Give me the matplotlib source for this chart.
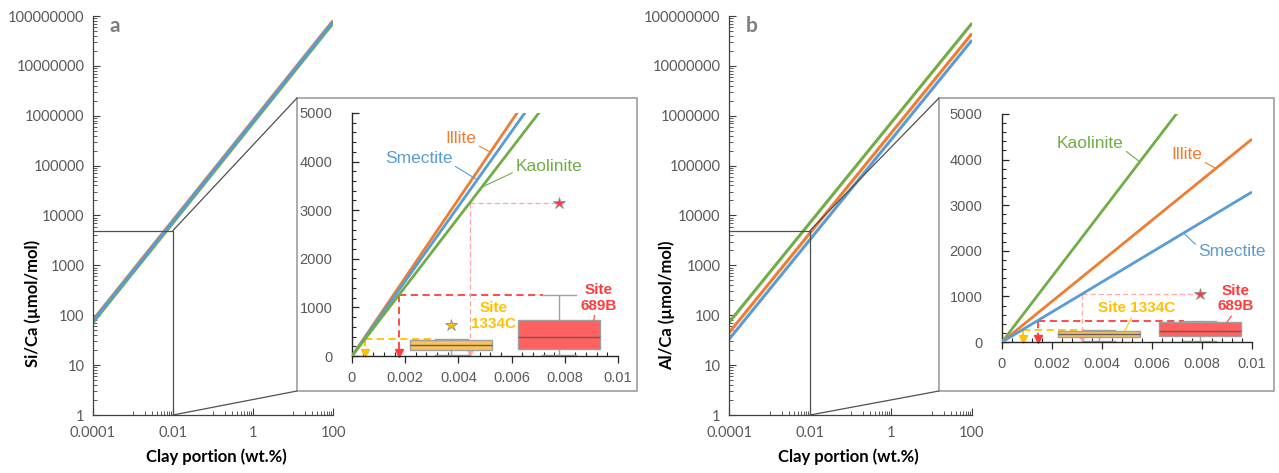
import matplotlib
matplotlib.use('Agg')
import matplotlib.pyplot as plt
from matplotlib.patches import Rectangle, ConnectionPatch
from matplotlib.ticker import FixedLocator, MultipleLocator, FuncFormatter, NullFormatter

W, H = 1279, 473

# ---------------- data ----------------
clay_pts = [0.0, 0.0001, 0.01, 100.0]          # wt.%
si_illite = [0.0, 80.6, 8060.0, 8.06e7]
si_smectite = [0.0, 77.0, 7700.0, 7.70e7]
si_kaolinite = [0.0, 71.2, 7120.0, 7.12e7]
al_kaolinite = [0.0, 71.7, 7170.0, 7.17e7]
al_illite = [0.0, 44.5, 4450.0, 4.45e7]
al_smectite = [0.0, 32.9, 3290.0, 3.29e7]

sites = ['Site\n1334C', 'Site\n689B']
# Si/Ca box statistics (µmol/mol)
si_pos = [0.00373, 0.00778]
si_q1 = [117, 144]
si_med = [220, 391]
si_q3 = [322, 734]
si_lo = [14, 14]
si_hi = [357, 1248]
si_out = [[631], [3148]]
# Al/Ca box statistics (µmol/mol)
al_pos = [0.00388, 0.00791]
al_q1 = [109, 123]
al_med = [175, 232]
al_q3 = [234, 438]
al_lo = [20, 28]
al_hi = [270, 466]
al_out = [[], [1051]]

# clay portions read by projecting whisker max / outlier onto the clay lines
si_proj_clay = [0.00050, 0.00175, 0.00442]
si_proj_val = [357, 1248, 3148]
al_proj_clay = [0.00082, 0.00142, 0.00320]
al_proj_val = [270, 466, 1051]

ORANGE = '#ED7D31'
BLUE = '#5B9BD5'
GREEN = '#70AD47'
YEL = '#FFC000'
YEL_FILL = '#F9C35C'
RED = '#FF3B3B'
RED_FILL = '#FF6161'
PINK = '#FFA6A6'
TICKC = '#595959'
AXC = '#7F7F7F'

fig = plt.figure(figsize=(W / 100, H / 100), dpi=100)


def fr(x0, y0, x1, y1):
    return [x0 / W, 1 - y1 / H, (x1 - x0) / W, (y1 - y0) / H]


def main_axes(rect, series, ylabel, ylab_xy, xlab_xy, letter, letter_xy):
    ax = fig.add_axes(rect)
    ax.set_xscale('log')
    ax.set_yscale('log')
    ax.set_xlim(1e-4, 100)
    ax.set_ylim(1, 1e8)
    for s in ['top', 'right']:
        ax.spines[s].set_visible(False)
    for s in ['left', 'bottom']:
        ax.spines[s].set_color('#404040')
        ax.spines[s].set_linewidth(0.9)
    ax.xaxis.set_major_locator(FixedLocator([1e-4, 1e-2, 1, 100]))
    ax.xaxis.set_major_formatter(FuncFormatter(lambda v, p: {1e-4: '0.0001', 1e-2: '0.01', 1: '1', 100: '100'}.get(v, '')))
    xm = [k * 10.0 ** e for e in (-3, -1, 1) for k in range(1, 10)]
    ax.xaxis.set_minor_locator(FixedLocator(xm))
    ax.xaxis.set_minor_formatter(NullFormatter())
    ax.yaxis.set_major_locator(FixedLocator([10.0 ** e for e in range(0, 9)]))
    ax.yaxis.set_major_formatter(FuncFormatter(lambda v, p: '%d' % round(v)))
    ym = [k * 10.0 ** e for e in range(0, 8) for k in range(2, 10)]
    ax.yaxis.set_minor_locator(FixedLocator(ym))
    ax.yaxis.set_minor_formatter(NullFormatter())
    ax.tick_params(which='major', direction='in', length=5, width=0.8, color='#404040',
                   labelsize=10.5, labelcolor=TICKC, pad=6)
    ax.tick_params(which='minor', direction='in', length=3, width=0.6, color='#404040')
    ax.tick_params(axis='x', which='major', pad=8)
    for lab in ax.get_xticklabels() + ax.get_yticklabels():
        lab.set_family('Lato')
    for vals, c in series:
        ax.plot(clay_pts[1:], vals[1:], color=c, lw=2.2, solid_capstyle='butt')
    # zoom box
    ax.plot([1e-4, 0.01, 0.01], [5000, 5000, 1], color='#505050', lw=0.9, clip_on=False)
    fig.text(ylab_xy[0] / W, 1 - ylab_xy[1] / H, ylabel, rotation=90, ha='center', va='center',
             fontsize=12, fontweight='bold', family='Lato', color='black')
    fig.text(xlab_xy[0] / W, 1 - xlab_xy[1] / H, 'Clay portion (wt.%)', ha='center', va='center',
             fontsize=12, fontweight='bold', family='Lato', color='black')
    fig.text(letter_xy[0] / W, 1 - letter_xy[1] / H, letter, ha='center', va='center',
             fontsize=15, fontweight='bold', family='Lato', color='#7F7F7F')
    return ax


def frame_and_connect(ax, frame):
    x0, y0, x1, y1 = frame
    rect = Rectangle((x0 / W, 1 - y1 / H), (x1 - x0) / W, (y1 - y0) / H, transform=fig.transFigure,
                     facecolor='white', edgecolor='#A6A6A6', lw=1.3, zorder=1)
    fig.add_artist(rect)
    for yv, yp in [(5000, y0), (1, y1)]:
        cp = ConnectionPatch(xyA=(0.01, yv), coordsA=ax.transData,
                             xyB=(x0 / W, 1 - yp / H), coordsB=fig.transFigure,
                             color='#505050', lw=0.9, zorder=1.5)
        fig.add_artist(cp)


def inset_axes(rect, series, q1, med, q3, lo, hi, out, pos, width, capw, proj_clay, proj_val,
               cap_left, star_x):
    ax = fig.add_axes(rect, zorder=3)
    ax.patch.set_alpha(0)
    ax.set_xlim(0, 0.01)
    ax.set_ylim(0, 5000)
    for s in ['top', 'right']:
        ax.spines[s].set_visible(False)
    for s in ['left', 'bottom']:
        ax.spines[s].set_color('#262626')
        ax.spines[s].set_linewidth(1.0)
    ax.xaxis.set_major_locator(MultipleLocator(0.002))
    ax.xaxis.set_minor_locator(MultipleLocator(0.0004))
    ax.yaxis.set_major_locator(MultipleLocator(1000))
    ax.yaxis.set_minor_locator(MultipleLocator(200))
    ax.xaxis.set_major_formatter(FuncFormatter(lambda v, p: '0' if abs(v) < 1e-12 else ('%g' % round(v, 4))))
    ax.yaxis.set_major_formatter(FuncFormatter(lambda v, p: '%d' % round(v)))
    ax.tick_params(axis='x', which='major', direction='out', length=5, width=0.9, color='#262626',
                   labelsize=10.5, labelcolor=TICKC, pad=6)
    ax.tick_params(axis='x', which='minor', direction='in', length=3, width=0.8, color='#262626')
    ax.tick_params(axis='y', which='major', direction='in', length=5, width=0.9, color='#262626',
                   labelsize=10.5, labelcolor=TICKC, pad=14)
    ax.tick_params(axis='y', which='minor', direction='in', length=3, width=0.8, color='#262626')
    for lab in ax.get_xticklabels() + ax.get_yticklabels():
        lab.set_family('Liberation Sans')
    for vals, c in series:
        ax.plot(clay_pts[:3], vals[:3], color=c, lw=2.0, solid_capstyle='butt', zorder=3)

    # projections (dashed) with arrows
    cols = [YEL, RED, PINK]
    lws = [1.3, 1.3, 0.9]
    for i in range(3):
        c = cols[i]
        xe = cap_left[i] if i < 2 else star_x
        ax.plot([proj_clay[i], xe], [proj_val[i], proj_val[i]], ls=(0, (4, 2.5)), color=c, lw=lws[i], zorder=2)
        ax.plot([proj_clay[i], proj_clay[i]], [proj_val[i], 110], ls=(0, (4, 2.5)), color=c, lw=lws[i], zorder=2)
        ax.plot([proj_clay[i]], [60], marker='v', color=c, ms=6 if i < 2 else 3.5, zorder=2, clip_on=False)

    stats = []
    for i in range(2):
        stats.append(dict(med=med[i], q1=q1[i], q3=q3[i], whislo=lo[i], whishi=hi[i],
                          fliers=out[i], label=sites[i]))
    fills = [YEL_FILL, RED_FILL]
    flc = [YEL, RED]
    for i in range(2):
        ax.bxp([stats[i]], positions=[pos[i]], widths=[width[i]], capwidths=[capw[i]], patch_artist=True,
               manage_ticks=False,
               boxprops=dict(facecolor=fills[i], edgecolor='#A0A0A0', lw=1.0),
               medianprops=dict(color='#6B5A5A', lw=1.0),
               whiskerprops=dict(color='#A0A0A0', lw=1.0),
               capprops=dict(color='#A0A0A0', lw=1.0),
               flierprops=dict(marker='*', markersize=9, markerfacecolor=flc[i],
                               markeredgecolor='#909090', markeredgewidth=0.6))
    return ax


ax_a = main_axes(fr(93, 16, 333, 415), [(si_kaolinite, GREEN), (si_illite, ORANGE), (si_smectite, BLUE)],
                 'Si/Ca (µmol/mol)', (33, 303), (216, 457), 'a', (115, 26))
ax_b = main_axes(fr(729, 16, 972, 415), [(al_kaolinite, GREEN), (al_illite, ORANGE), (al_smectite, BLUE)],
                 'Al/Ca (µmol/mol)', (667, 305), (848, 457), 'b', (752, 26))

frame_and_connect(ax_a, (297, 98, 637, 391))
frame_and_connect(ax_b, (939, 98, 1274, 391))

ia = inset_axes(fr(352, 113, 618, 356), [(si_illite, ORANGE), (si_smectite, BLUE), (si_kaolinite, GREEN)],
                si_q1, si_med, si_q3, si_lo, si_hi, si_out, si_pos, [0.0031, 0.0031], [0.00125, 0.00125],
                si_proj_clay, si_proj_val, [0.00307, 0.00717], 0.00778)
ib = inset_axes(fr(1002, 114, 1252, 342), [(al_kaolinite, GREEN), (al_illite, ORANGE), (al_smectite, BLUE)],
                al_q1, al_med, al_q3, al_lo, al_hi, al_out, al_pos, [0.0033, 0.0033], [0.00126, 0.00133],
                al_proj_clay, al_proj_val, [0.00327, 0.00727], 0.0077)

NARROW = ['Liberation Sans Narrow', 'Liberation Sans']


def lab(ax, text, xy, xyt, c, relpos, fs=12.5, fam='Liberation Sans', fw='normal'):
    ax.annotate(text, xy=xy, xytext=xyt, ha='center', va='center', color=c, fontsize=fs,
                family=fam, fontweight=fw, linespacing=1.15,
                arrowprops=dict(arrowstyle='-', color=c, lw=0.8, shrinkA=0, shrinkB=0, relpos=relpos),
                zorder=5)


# inset a labels
lab(ia, 'Illite', (0.00520, 4197), (0.00410, 4472), ORANGE, (1, 0.1))
lab(ia, 'Smectite', (0.00470, 3628), (0.00251, 4060), BLUE, (1, 0.1))
lab(ia, 'Kaolinite', (0.00489, 3477), (0.00739, 3889), GREEN, (0, 0.2))
ia.text(0.00533, 816, 'Site\n1334C', ha='center', va='center', color=YEL, fontsize=11, family=NARROW,
        fontweight='bold', linespacing=1.2, zorder=5)
lab(ia, 'Site\n689B', (0.00909, 734), (0.00927, 1200), RED, (0.4, 0), fs=11, fam=NARROW, fw='bold')

# inset b labels
lab(ib, 'Kaolinite', (0.00550, 3956), (0.00353, 4358), GREEN, (1, 0.1))
lab(ib, 'Illite', (0.00855, 3810), (0.00740, 4102), ORANGE, (1, 0.1))
lab(ib, 'Smectite', (0.00727, 2387), (0.00920, 1985), BLUE, (0, 0.8))
lab(ib, 'Site 1334C', (0.00490, 234), (0.00540, 745), YEL, (0.45, 0), fs=11, fam=NARROW, fw='bold')
lab(ib, 'Site\n689B', (0.00900, 438), (0.00933, 956), RED, (0.45, 0), fs=11, fam=NARROW, fw='bold')

fig.savefig('out.png', dpi=100)
